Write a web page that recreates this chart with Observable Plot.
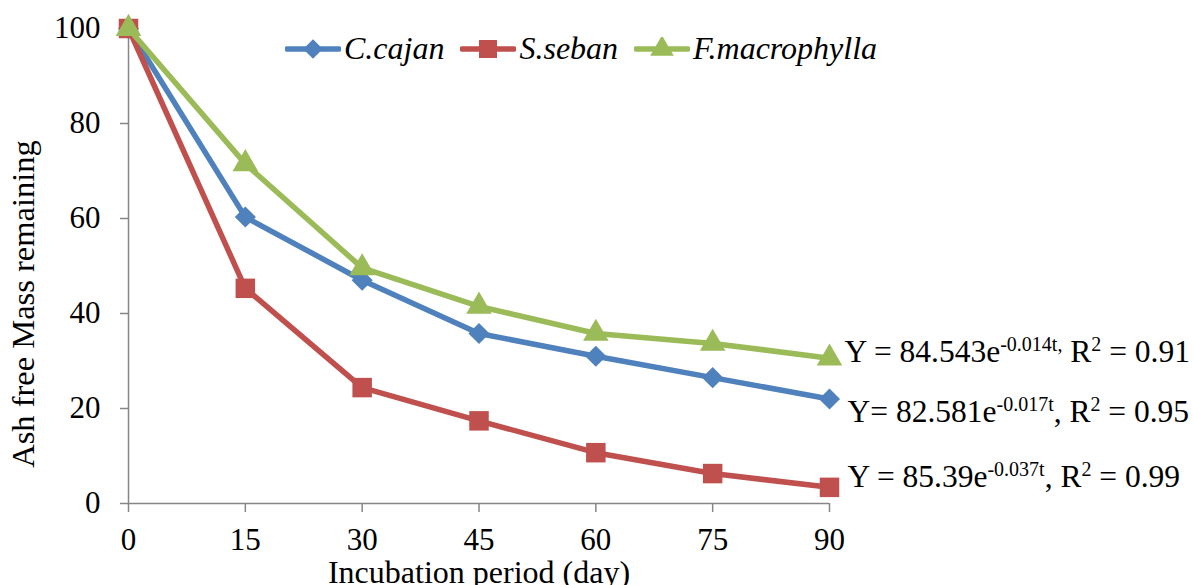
<!DOCTYPE html>
<html>
<head>
<meta charset="utf-8">
<script src="https://cdn.jsdelivr.net/npm/d3@7"></script>
<script src="https://cdn.jsdelivr.net/npm/@observablehq/plot@0.6"></script>
<style>
  html, body { margin: 0; padding: 0; background: #fff; }
  #wrap { position: relative; width: 1193px; height: 585px; overflow: hidden; }
  #legend { position: absolute; left: 285px; top: 30px; display: flex; align-items: center; color: #000; }
  #legend .item { display: flex; align-items: center; margin-right: 16px; }
  #legend span { font-family: "Liberation Serif", "Times New Roman", Times, serif; font-style: italic; font-size: 32px; }
  #legend svg { margin-right: 3px; }
</style>
</head>
<body>
<div id="wrap"></div>
<script>
// ---- data ----
const days = [0, 15, 30, 45, 60, 75, 90];
const seriesNames = ["C.cajan", "S.seban", "F.macrophylla"];
const cajan = [100, 60.3, 47.0, 35.8, 31.0, 26.5, 22.0];
const seban = [100, 45.3, 24.4, 17.4, 10.7, 6.3, 3.4];
const macrophylla = [100, 71.5, 49.6, 41.5, 35.8, 33.7, 30.6];
const xTicks = [0, 15, 30, 45, 60, 75, 90];
const yTicks = [0, 20, 40, 60, 80, 100];
const xLabel = "Incubation period (day)";
const yLabel = "Ash free Mass remaining";
// equation annotations (per series)
const eqMain = ["Y= 82.581e", "Y = 85.39e", "Y = 84.543e"];
const eqExp = ["-0.017t", "-0.037t", "-0.014t,"];
const eqSep = [", R", ", R", " R"];
const eqR2 = ["0.95", "0.99", "0.91"];

// ---- styles ----
const colors = ["#4F81BD", "#C0504D", "#9BBB59"];
const symbols = ["diamond2", "square", "triangle"];
const symbolR = [9.5, 11, 9.5];
const eqDy = [13, -10, -6];
const eqDx = [18, 18, 15];
const FONT = "'Liberation Serif', 'Times New Roman', Times, serif";

const valuesBySeries = [cajan, seban, macrophylla];
const rows = [];
seriesNames.forEach((s, si) => {
  days.forEach((d, i) => rows.push({series: s, si, day: d, value: valuesBySeries[si][i]}));
});

const marks = [
  Plot.ruleY([0], {stroke: "#868686", strokeWidth: 1.5}),
  Plot.ruleX([0], {stroke: "#868686", strokeWidth: 1.5}),
  Plot.axisX({ticks: xTicks, tickSize: 9, tickPadding: 15, stroke: "#868686", strokeWidth: 1.5, label: null,
    fontSize: 31, fontFamily: FONT, fontVariant: "normal"}),
  Plot.axisY({ticks: yTicks, tickSize: 8, tickPadding: 20, stroke: "#868686", strokeWidth: 1.5, label: null,
    fontSize: 31, fontFamily: FONT, fontVariant: "normal"}),
  Plot.text([xLabel], {frameAnchor: "bottom", textAnchor: "middle", lineAnchor: "top", dy: 57,
    fontSize: 32, fontFamily: FONT, text: d => d}),
  Plot.text([yLabel], {frameAnchor: "left", textAnchor: "middle", rotate: -90, dx: -105, dy: 38,
    fontSize: 32.5, fontFamily: FONT, text: d => d})
];
seriesNames.forEach((s, si) => {
  const data = rows.filter(r => r.si === si);
  marks.push(Plot.line(data, {x: "day", y: "value", stroke: colors[si], strokeWidth: 5.5}));
  marks.push(Plot.dot(data, {x: "day", y: "value", fill: colors[si], symbol: () => symbols[si], r: symbolR[si]}));
});
seriesNames.forEach((s, si) => {
  const last = rows.filter(r => r.si === si && r.day === 90);
  marks.push(Plot.text(last, {x: "day", y: "value", text: () => eqMain[si], textAnchor: "start",
    dx: eqDx[si], dy: eqDy[si], fontSize: 31.5, fontFamily: FONT, className: "eq" + si}));
});

const chart = Plot.plot({
  width: 1193, height: 585,
  marginLeft: 128, marginRight: 364, marginTop: 28, marginBottom: 82,
  style: {fontFamily: FONT, fontSize: "30px", color: "#000", background: "#fff", overflow: "visible"},
  x: {domain: [0, 90]},
  y: {domain: [0, 100]},
  symbol: {type: "identity"},
  marks
});

// rebuild equation texts with superscripts
seriesNames.forEach((s, si) => {
  d3.select(chart).selectAll(".eq" + si + " text").each(function () {
    const t = d3.select(this);
    t.text(null);
    t.append("tspan").text(eqMain[si]);
    t.append("tspan").attr("dy", "-11").attr("font-size", 20).text(eqExp[si]);
    t.append("tspan").attr("dy", "11").text(eqSep[si]);
    t.append("tspan").attr("dy", "-11").attr("font-size", 20).text("2");
    t.append("tspan").attr("dy", "11").text(" = " + eqR2[si]);
  });
});

const wrap = document.getElementById("wrap");
wrap.appendChild(chart);

// legend overlay
const legend = document.createElement("div");
legend.id = "legend";
seriesNames.forEach((s, si) => {
  const item = document.createElement("div");
  item.className = "item";
  const sw = d3.create("svg").attr("width", 56).attr("height", 24);
  sw.append("line").attr("x1", 2).attr("x2", 54).attr("y1", 12).attr("y2", 12)
    .attr("stroke", colors[si]).attr("stroke-width", 5.5).attr("stroke-linecap", "round");
  const sym = {diamond2: d3.symbolDiamond2, square: d3.symbolSquare, triangle: d3.symbolTriangle}[symbols[si]];
  sw.append("path").attr("transform", "translate(28,12)")
    .attr("d", d3.symbol(sym, Math.PI * symbolR[si] * symbolR[si] * 0.85)())
    .attr("fill", colors[si]);
  item.appendChild(sw.node());
  const lab = document.createElement("span");
  lab.textContent = s;
  item.appendChild(lab);
  legend.appendChild(item);
});
wrap.appendChild(legend);
</script>
</body>
</html>
